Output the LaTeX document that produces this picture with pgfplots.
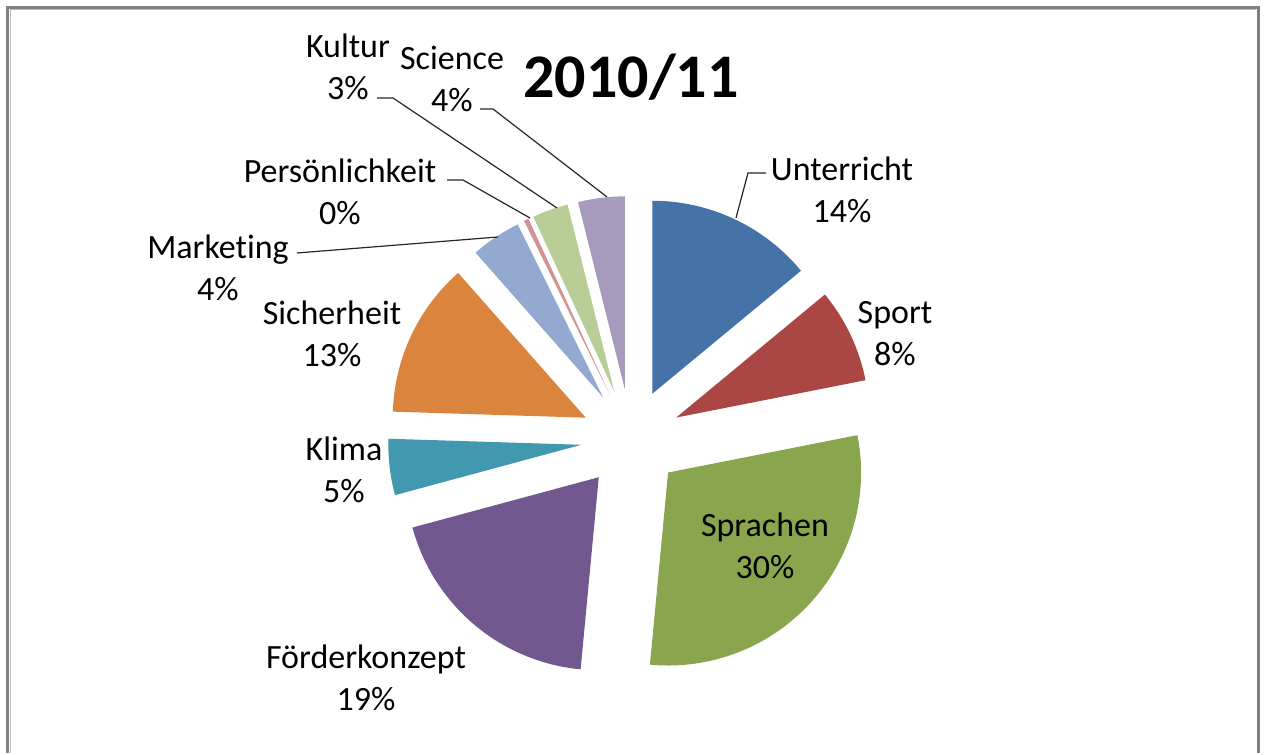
\documentclass[border=0pt]{standalone}
\usepackage{fontspec}
\setmainfont[Ligatures=NoCommon]{Carlito}
\usepackage{pgfplots}
\usepackage{pgfplotstable}
\pgfplotsset{compat=1.18}
\definecolor{cU}{HTML}{4572A7}
\definecolor{cS}{HTML}{AA4643}
\definecolor{cSp}{HTML}{89A54E}
\definecolor{cF}{HTML}{71588F}
\definecolor{cK}{HTML}{4198AF}
\definecolor{cSi}{HTML}{DB843D}
\definecolor{cM}{HTML}{93A9CF}
\definecolor{cP}{HTML}{D19392}
\definecolor{cKu}{HTML}{B9CD96}
\definecolor{cSc}{HTML}{A99BBD}
\pgfplotstableread{
name value color
Unterricht 14.0 cU
Sport 7.9 cS
Sprachen 29.6 cSp
Foerderkonzept 19.3 cF
Klima 4.7 cK
Sicherheit 13.0 cSi
Marketing 4.2 cM
Persoenlichkeit 0.4 cP
Kultur 3.0 cKu
Science 3.9 cSc
}\piedata
\newcommand\lab{\fontsize{17}{21}\selectfont}
\begin{document}
\begin{tikzpicture}
\begin{axis}[
  x=0.5pt, y=0.5pt,
  xmin=0, xmax=1265, ymin=0, ymax=753,
  hide axis, clip=false,
]
\path (axis cs:0,0) rectangle (axis cs:1265,753);
\pgfplotsextra{
  \pgfplotstablegetrowsof{\piedata}
  \pgfmathtruncatemacro\N{\pgfplotsretval-1}
  \xdef\cum{0}
  \foreach \i in {0,...,\N}{
    \pgfplotstablegetelem{\i}{value}\of\piedata
    \pgfmathsetmacro\v{\pgfplotsretval}
    \pgfplotstablegetelem{\i}{color}\of\piedata
    \edef\col{\pgfplotsretval}
    \pgfmathsetmacro\aA{90-3.6*\cum}
    \pgfmathsetmacro\aB{90-3.6*(\cum+\v)}
    \pgfmathsetmacro\aM{(\aA+\aB)/2}
    \pgfmathsetmacro\px{631+50*cos(\aM)}
    \pgfmathsetmacro\py{314+50*sin(\aM)}
    \fill[fill=\col] (axis cs:\px,\py) -- ++(\aA:96.5pt) arc[start angle=\aA, end angle=\aB, radius=96.5pt] -- cycle;
    \pgfmathsetmacro\c{\cum+\v}
    \xdef\cum{\c}
  }
}
% leader lines
\draw[black!85, line width=0.6pt] (axis cs:766,580) -- (axis cs:748,580) -- (axis cs:736,535);
\draw[black!85, line width=0.6pt] (axis cs:480,644) -- (axis cs:493,644) -- (axis cs:607,556);
\draw[black!85, line width=0.6pt] (axis cs:377,655) -- (axis cs:393,655) -- (axis cs:557,545);
\draw[black!85, line width=0.6pt] (axis cs:447,573) -- (axis cs:463,573) -- (axis cs:530,535);
\draw[black!85, line width=0.6pt] (axis cs:297,500) -- (axis cs:498,516);
% labels
\node[align=center, font=\lab] at (axis cs:348,686) {Kultur\\3\%};
\node[align=center, font=\lab] at (axis cs:452,674) {Science\\4\%};
\node[align=center, font=\lab] at (axis cs:340,561) {Persönlichkeit\\0\%};
\node[align=center, font=\lab] at (axis cs:218,485) {Marketing\\4\%};
\node[align=center, font=\lab] at (axis cs:332,419) {Sicherheit\\13\%};
\node[align=center, font=\lab] at (axis cs:344,283) {Klima\\5\%};
\node[align=center, font=\lab] at (axis cs:366,75) {Förderkonzept\\19\%};
\node[align=center, font=\lab] at (axis cs:765,207) {Sprachen\\30\%};
\node[align=center, font=\lab] at (axis cs:895,419) {Sport\\8\%};
\node[align=center, font=\lab] at (axis cs:842,563) {Unterricht\\14\%};
\node[font=\fontsize{31}{36}\selectfont\bfseries] at (axis cs:631,676) {2010/11};
% frame
\draw[gray!55, line width=0.5pt] (axis cs:10,0) -- (axis cs:10,743.5) -- (axis cs:1256,743.5);
\draw[gray, line width=1.5pt] (axis cs:7.5,0) -- (axis cs:7.5,745.5) -- (axis cs:1258.5,745.5) -- (axis cs:1258.5,0);
\end{axis}
\end{tikzpicture}
\end{document}
